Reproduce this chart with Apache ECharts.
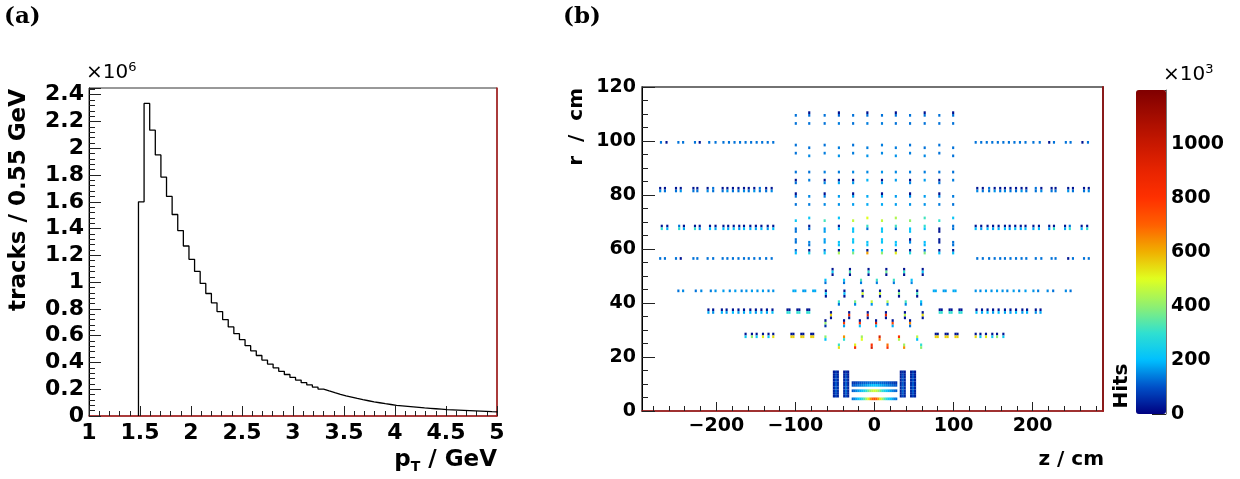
<!DOCTYPE html>
<html><head><meta charset="utf-8">
<script src="https://cdn.jsdelivr.net/npm/echarts@6/dist/echarts.min.js"></script>
<style>html,body{margin:0;padding:0;background:#fff}#c{width:1240px;height:479px}</style>
</head><body><div id="c"></div>
<script>
// ================= (a) track transverse-momentum histogram =================
const ptBinStart = 1.485;   // GeV, lower edge of first filled bin
const ptBinWidth = 0.055;   // GeV
const tracksMillions = [
  1.600, 2.335, 2.135, 1.950, 1.785, 1.640, 1.505, 1.385, 1.270, 1.170,
  1.080, 0.990, 0.915, 0.845, 0.780, 0.720, 0.665, 0.615, 0.570, 0.525,
  0.487, 0.452, 0.418, 0.388, 0.360, 0.334, 0.310, 0.288, 0.268, 0.249,
  0.232, 0.216, 0.201, 0.187, 0.174, 0.162, 0.151, 0.141, 0.131, 0.122,
  0.114, 0.106, 0.099, 0.092, 0.086, 0.080, 0.076, 0.072, 0.068, 0.064,
  0.060, 0.057, 0.054, 0.051, 0.048, 0.046, 0.044, 0.042, 0.040, 0.038,
  0.036, 0.034, 0.032, 0.031
];

// ================= (b) hit map r vs z (hits in thousands) =================
const zBin = 2.7, rBin = 1.0; // cm
const zMajorTicks = [-200, -100, 0, 100, 200];
const zMinorTicks = [-280,-260,-240,-220,-180,-160,-140,-120,-80,-60,-40,-20,20,40,60,80,120,140,160,180,220,240,260,280];

// outer endcap disk rings (mirrored in z)
const diskRowR    = [99.5, 82.5, 68.5, 56.5, 44.5, 37.5, 28.5];
const diskRowRLow = [null, 81.5, 67.5, null, null, 36.5, 27.5];
const diskRowZ = [
  [128,135,142,149,156,163,170,177,184,191,201,209,221,227,242,248,263,270],
  [130,137,145,152,159,165,172,179,186,192,204,211,224,229,245,251,265,271],
  [128,135,143,150,157,165,171,178,185,191,201,208,221,227,241,247,262,269],
  [130,137,145,152,159,165,172,179,186,192,204,211,224,229,245,251,265,271],
  [128,134,141,148,155,162,168,176,183,191,201,207,219,226,242,248],
  [129,136,143,150,157,165,172,179,187,193,204,210],
  [128,134,141,149,155,163]
];
const diskUpperHits = [
  [130,130,130,130,130,130,130,130,130,130,130,130,25,130,130,130,25,130],
  [25,25,130,25,25,25,25,25,25,25,130,25,25,25,25,25,25,25],
  [25,25,25,25,25,25,25,25,25,25,25,25,25,25,25,130,25,25],
  [130,130,130,130,130,130,130,130,130,130,130,130,130,130,25,130,130,130],
  [160,150,170,160,170,160,150,170,150,170,160,140,150,130,150,130],
  [25,25,25,25,25,25,25,25,25,25,25,25],
  [25,25,25,25,25,25]
];
const diskLowerHits = [
  null,
  [150,130,130,160,130,150,130,130,160,130,130,150,130,130,160,130,130,150],
  [200,170,200,180,190,200,170,210,180,200,180,200,170,300,180,300,190,300],
  null,
  null,
  [210,180,200,170,200,180,170,200,170,190,160,180],
  [540,230,520,230,400,230]
];

// inner endcap disks (mirrored in z)
const tidR    = [44.5, 37.5, 28.5];
const tidRLow = [null, 36.5, 27.5];
const tidZ = [
  [75, 77.5, 87.5, 90, 100, 102.5],
  [82.5, 85, 95, 97.5, 107.5, 110],
  [77.5, 80, 90, 92.5, 102.5, 105]
];
const tidUpperHits = [
  [180,180,170,170,180,180],
  [25,25,25,25,25,25],
  [25,25,25,25,25,25]
];
const tidLowerHits = [
  null,
  [300,300,300,300,290,290],
  [560,560,560,560,560,560]
];

// outer barrel modules
const barrelZ = [-99.5, -82.5, -63, -45, -27, -9, 9.5, 27, 45, 63.5, 82, 99.5];
const barrelR = [110.5,109.5,106.5,98.5,97.5,95.5,94.5,88.5,85.5,84.5,80.5,79.5,76.5,71.5,70.5,68.5,67.5,66.5,63.5,62.5,61.5,59.5,58.5];
const barrelHits = [
  [0,20,0,20,0,20,0,20,0,20,0,20],
  [130,130,130,120,130,130,130,130,130,130,130,130],
  [130,130,130,140,130,140,140,130,130,130,130,130],
  [130,0,130,0,130,0,140,0,130,0,130,0],
  [0,130,0,140,0,140,0,140,0,130,0,130],
  [130,0,140,0,140,0,150,0,140,0,130,0],
  [0,150,0,160,0,160,0,160,0,150,0,130],
  [130,130,140,140,150,150,160,150,140,140,130,130],
  [20,140,20,40,20,190,20,170,20,170,20,140],
  [130,0,150,180,170,0,170,0,150,0,130,0],
  [20,0,20,0,20,0,20,0,20,0,20,0],
  [130,150,140,170,170,180,180,170,160,170,150,140],
  [130,140,150,160,170,180,180,170,160,160,140,130],
  [0,220,0,210,0,500,0,440,0,320,0,220],
  [220,0,320,0,460,0,460,0,400,0,300,0],
  [0,30,0,30,0,310,0,320,0,300,0,130],
  [130,130,170,200,210,130,220,130,210,210,25,130],
  [130,0,170,0,210,0,220,0,210,0,25,0],
  [130,0,170,0,220,0,220,0,30,0,25,0],
  [130,150,170,220,220,210,220,210,150,200,40,130],
  [0,130,0,200,0,210,0,200,0,190,0,130],
  [130,25,130,25,200,25,200,25,40,120,25,25],
  [200,260,230,430,380,620,400,520,280,380,210,210]
];

// inner barrel layers
const tibZ = [
  [-53, -31, -7.5, 15, 37.5, 61],
  [-62, -38.5, -17, 3, 24.5, 47],
  [-61.5, -38, -15, 7, 31, 54],
  [-45, -24.5, -3.5, 16.5, 39.5, 59],
  [-55, -32, -8.5, 14.5, 38.5, 61],
  [-62, -38.5, -18.5, 2, 23, 45],
  [-62, -38.5, -16, 6.5, 31, 54],
  [-45, -24.5, -3.5, 16.5, 37.5, 59]
];
const tibR = [[52.5,51.5,50.5],[48.5,47.5],[44.5,43.5,42.5],[40.5,39.5],[36.5,35.5,34.5],[33.5,32.5,31.5],[27.5,26.5],[24.5,23.5]];
const tibHits = [
  [[25,25,25,25,25,25],[230,330,300,360,300,220],[25,25,25,25,25,25]],
  [[210,220,330,310,310,210],[130,130,140,140,140,150]],
  [[25,25,25,25,25,25],[220,200,480,470,380,320],[25,25,25,25,25,25]],
  [[310,380,460,440,320,220],[130,150,160,150,150,150]],
  [[25,25,25,25,25,25],[560,850,900,880,450,540],[25,25,25,25,25,25]],
  [[25,25,25,25,25,25],[400,780,820,950,760,650],[60,170,200,200,180,130]],
  [[400,640,420,950,800,450],[210,300,500,660,440,200]],
  [[310,520,800,680,420,300],[540,820,950,820,640,400]]
];

// pixel barrel
const pixZ = [-27.5,-25,-22.5,-20,-17.5,-15,-12.5,-10,-7.5,-5,-2.5,0,2.5,5,7.5,10,12.5,15,17.5,20,22.5,25,27.5];
const pixR = [10.5, 9.5, 7.5, 4.5];
const pixHits = [
  [60,70,80,90,100,105,110,115,120,125,125,125,125,125,120,115,110,105,100,90,80,70,60],
  [100,110,120,130,140,150,160,170,180,190,200,200,200,190,180,170,160,150,140,130,120,110,100],
  [110,130,150,170,190,220,260,300,360,420,460,480,460,420,360,300,260,220,190,170,150,130,110],
  [130,150,180,210,240,290,350,430,520,620,700,740,700,620,520,430,350,290,240,210,180,150,130]
];

// pixel endcap disks
const pixDiskZ = [-51.3,-48.8,-46.3,-38.3,-35.8,-33.3,33.3,35.8,38.3,46.3,48.8,51.3];
const pixDiskR = [5.5,6.5,7.5,8.5,9.5,10.5,11.5,12.5,13.5,14.5];
const pixDiskHits = [
  [40,80,45,45,90,40,40,90,45,45,80,40],
  [45,100,55,50,110,45,45,110,50,55,100,45],
  [45,110,60,55,120,45,45,120,55,60,110,45],
  [45,110,60,55,120,50,50,120,55,60,110,45],
  [45,110,60,55,115,50,50,115,55,60,110,45],
  [45,105,55,50,110,45,45,110,50,55,105,45],
  [40,100,55,50,105,45,45,105,50,55,100,40],
  [40,95,50,45,100,40,40,100,45,50,95,40],
  [35,90,45,40,90,35,35,90,40,45,90,35],
  [30,70,35,30,60,30,30,60,30,35,70,30]
];

const hitsPalette = ['#000080','#0050c8','#00c0ff','#30e0d0','#90f070','#e0ff20','#f0b000','#ff6000','#ff3000','#e82400','#c81800','#a40c00','#800000'];

// ---------------- build series data ----------------
const histPoints = [[ptBinStart, 0]];
tracksMillions.forEach((v, i) => histPoints.push([ptBinStart + (i + 1) * ptBinWidth, v]));

const heatCells = [];
function addCell(z, r, v) { if (v && v > 0) heatCells.push([z, r, v]); }
diskRowZ.forEach((zs, i) => zs.forEach((az, j) => [-1, 1].forEach(s => {
  addCell(s * az, diskRowR[i], diskUpperHits[i][j]);
  if (diskLowerHits[i]) addCell(s * az, diskRowRLow[i], diskLowerHits[i][j]);
})));
tidZ.forEach((zs, i) => zs.forEach((az, j) => [-1, 1].forEach(s => {
  addCell(s * az, tidR[i], tidUpperHits[i][j]);
  if (tidLowerHits[i]) addCell(s * az, tidRLow[i], tidLowerHits[i][j]);
})));
barrelR.forEach((r, i) => barrelZ.forEach((z, j) => addCell(z, r, barrelHits[i][j])));
tibZ.forEach((zs, k) => tibR[k].forEach((r, i) => zs.forEach((z, j) => addCell(z, r, tibHits[k][i][j]))));
pixR.forEach((r, i) => pixZ.forEach((z, j) => addCell(z, r, pixHits[i][j])));
pixDiskR.forEach((r, i) => pixDiskZ.forEach((z, j) => addCell(z, r, pixDiskHits[i][j])));

// ---------------- chart ----------------
const FONT = 'DejaVu Sans';
const labA = { fontFamily: FONT, fontWeight: 'bold', fontSize: 22, color: '#000' };
const labB = { fontFamily: FONT, fontWeight: 'bold', fontSize: 19, color: '#000' };
const tickLine = { color: '#222', width: 1 };
const frameRed = '#b01c1c';
const minusFmt = v => (v < 0 ? '\u2212' + (-v) : String(v));

const chart = echarts.init(document.getElementById('c'), null, { renderer: 'canvas' });
chart.setOption({
  animation: false,
  backgroundColor: '#fff',
  grid: [
    { left: 89, top: 88, width: 408, height: 328, show: true, borderColor: '#333', borderWidth: 1, backgroundColor: 'transparent' },
    { left: 642, top: 87, width: 461, height: 324, show: true, borderColor: '#444', borderWidth: 1.5, backgroundColor: 'transparent' },
    { left: 1136, top: 90, width: 30, height: 324, show: false }
  ],
  xAxis: [
    { gridIndex: 0, type: 'value', min: 1, max: 5, interval: 0.5,
      axisLine: { show: true, onZero: false, lineStyle: { color: frameRed, width: 1.5 } },
      axisTick: { show: true, inside: true, length: 10, lineStyle: tickLine },
      minorTick: { show: true, splitNumber: 5, length: 5, lineStyle: tickLine },
      axisLabel: Object.assign({ margin: 6 }, labA), splitLine: { show: false } },
    { gridIndex: 1, type: 'value', min: -294, max: 289, position: 'bottom',
      axisLine: { show: true, onZero: false, lineStyle: { color: frameRed, width: 1.5 } },
      axisTick: { show: true, inside: true, length: 9, customValues: zMajorTicks, lineStyle: tickLine },
      axisLabel: Object.assign({ margin: 6, customValues: zMajorTicks, formatter: minusFmt }, labB), splitLine: { show: false } },
    { gridIndex: 1, type: 'value', min: -294, max: 289, position: 'bottom',
      axisLine: { show: false, onZero: false },
      axisTick: { show: true, inside: true, length: 5, customValues: zMinorTicks, lineStyle: tickLine },
      axisLabel: { show: false }, splitLine: { show: false } },
    { gridIndex: 2, type: 'value', show: false, min: 0, max: 1 }
  ],
  yAxis: [
    { gridIndex: 0, type: 'value', min: 0, max: 2.45, interval: 0.2,
      axisLine: { show: true, onZero: false, lineStyle: { color: '#000', width: 1 } },
      axisTick: { show: true, inside: true, length: 12, lineStyle: tickLine },
      minorTick: { show: true, splitNumber: 5, length: 6, lineStyle: tickLine },
      axisLabel: Object.assign({ margin: 5, formatter: v => (Math.abs(v * 5 - Math.round(v * 5)) < 1e-6 ? String(+v.toFixed(2)) : '') }, labA),
      splitLine: { show: false } },
    { gridIndex: 0, type: 'value', position: 'right', min: 0, max: 1,
      axisLine: { show: true, onZero: false, lineStyle: { color: frameRed, width: 1.5 } },
      axisTick: { show: false }, axisLabel: { show: false }, splitLine: { show: false } },
    { gridIndex: 1, type: 'value', min: 0, max: 120, interval: 20,
      axisLine: { show: true, onZero: false, lineStyle: { color: '#000', width: 1 } },
      axisTick: { show: true, inside: true, length: 13, lineStyle: tickLine },
      minorTick: { show: true, splitNumber: 4, length: 6, lineStyle: tickLine },
      axisLabel: Object.assign({ margin: 6 }, labB), splitLine: { show: false } },
    { gridIndex: 1, type: 'value', position: 'right', min: 0, max: 1,
      axisLine: { show: true, onZero: false, lineStyle: { color: '#8a1a1a', width: 2 } },
      axisTick: { show: false }, axisLabel: { show: false }, splitLine: { show: false } },
    { gridIndex: 2, type: 'value', position: 'right', min: 0, max: 1200, interval: 200,
      axisLine: { show: true, onZero: false, lineStyle: { color: '#777', width: 1 } },
      axisTick: { show: true, inside: true, length: 14, lineStyle: tickLine },
      axisLabel: Object.assign({ margin: 5, formatter: v => (v > 1100 ? '' : String(v)) }, labB),
      splitLine: { show: false } }
  ],
  visualMap: {
    type: 'continuous', min: 0, max: 1200, dimension: 2, seriesIndex: 1,
    orient: 'vertical', left: 1136, top: 90, itemWidth: 30, itemHeight: 324,
    calculable: false, hoverLink: false, padding: 0, text: null,
    inRange: { color: hitsPalette }
  },
  series: [
    { type: 'line', xAxisIndex: 0, yAxisIndex: 0, data: histPoints, step: 'start',
      symbol: 'none', clip: true, lineStyle: { color: '#000', width: 1.3 } },
    { type: 'custom', xAxisIndex: 1, yAxisIndex: 2, data: heatCells, clip: true,
      dimensions: ['z', 'r', 'hits'], encode: { x: 'z', y: 'r' },
      renderItem: function (params, api) {
        const z = api.value(0), r = api.value(1);
        const a = api.coord([z - zBin / 2, r + rBin / 2]);
        const b = api.coord([z + zBin / 2, r - rBin / 2]);
        return { type: 'rect', shape: { x: a[0], y: a[1], width: b[0] - a[0], height: b[1] - a[1] },
                 style: { fill: api.visual('color') } };
      } }
  ],
  graphic: [
    { type: 'text', x: 4, y: 6, style: { text: '(a)', font: 'bold 23px "DejaVu Serif"', fill: '#000', verticalAlign: 'top' } },
    { type: 'text', x: 563, y: 6, style: { text: '(b)', font: 'bold 23px "DejaVu Serif"', fill: '#000', verticalAlign: 'top' } },
    { type: 'text', x: 86, y: 85, style: { text: '{a|×10}{b|6}', verticalAlign: 'bottom', fill: '#000',
        rich: { a: { fontFamily: FONT, fontSize: 20, lineHeight: 24 }, b: { fontFamily: FONT, fontSize: 13, verticalAlign: 'top', lineHeight: 24 } } } },
    { type: 'text', x: 1163, y: 87, style: { text: '{a|×10}{b|3}', verticalAlign: 'bottom', fill: '#000',
        rich: { a: { fontFamily: FONT, fontSize: 20, lineHeight: 24 }, b: { fontFamily: FONT, fontSize: 13, verticalAlign: 'top', lineHeight: 24 } } } },
    { type: 'text', x: 19, y: 89, rotation: Math.PI / 2, style: { text: 'tracks / 0.55 GeV', font: 'bold 23px "DejaVu Sans"', fill: '#000', align: 'right', verticalAlign: 'middle' } },
    { type: 'text', x: 577, y: 88, rotation: Math.PI / 2, style: { text: 'r  /  cm', font: 'bold 20px "DejaVu Sans"', fill: '#000', align: 'right', verticalAlign: 'middle' } },
    { type: 'text', x: 1122, y: 386, rotation: Math.PI / 2, style: { text: 'Hits', font: 'bold 20px "DejaVu Sans"', fill: '#000', align: 'center', verticalAlign: 'middle' } },
    { type: 'text', x: 497, y: 460, style: { text: '{a|p}{b|T}{a| / GeV}', align: 'right', verticalAlign: 'middle', fill: '#000',
        rich: { a: { fontFamily: FONT, fontWeight: 'bold', fontSize: 23, lineHeight: 28 }, b: { fontFamily: FONT, fontWeight: 'bold', fontSize: 14, verticalAlign: 'bottom', lineHeight: 28 } } } },
    { type: 'text', x: 1104, y: 460, style: { text: 'z / cm', font: 'bold 20px "DejaVu Sans"', fill: '#000', align: 'right', verticalAlign: 'middle' } }
  ]
});
</script></body></html>
